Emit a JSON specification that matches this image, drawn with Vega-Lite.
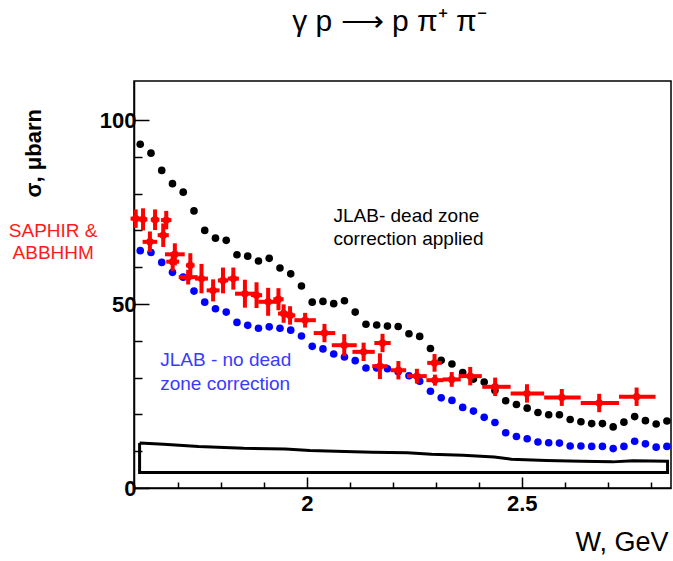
{
  "$schema": "https://vega.github.io/schema/vega-lite/v6.json",
  "width": 537,
  "height": 407,
  "autosize": {"type": "none"},
  "padding": {"left": 134, "top": 81, "right": 2, "bottom": 73},
  "background": "white",
  "config": {
    "font": "Liberation Sans",
    "view": {"stroke": "black", "strokeWidth": 1.5}
  },
  "title": {
    "text": "γ p ⟶ p π⁺ π⁻",
    "fontSize": 30,
    "fontWeight": "normal",
    "color": "black",
    "anchor": "middle",
    "frame": "group",
    "baseline": "alphabetic",
    "offset": 20,
    "dx": -13
  },
  "datasets": {
    "black": [
      {"W": 1.6125, "s": 93.4}, {"W": 1.6375, "s": 91.0}, {"W": 1.6625, "s": 86.3}, {"W": 1.6875, "s": 82.7},
      {"W": 1.7125, "s": 80.4}, {"W": 1.7375, "s": 75.3}, {"W": 1.7625, "s": 70.0}, {"W": 1.7875, "s": 67.9},
      {"W": 1.8125, "s": 67.3}, {"W": 1.8375, "s": 63.4}, {"W": 1.8625, "s": 63.0}, {"W": 1.8875, "s": 61.7},
      {"W": 1.9125, "s": 62.4}, {"W": 1.9375, "s": 59.8}, {"W": 1.9625, "s": 58.2}, {"W": 1.9875, "s": 54.9},
      {"W": 2.0125, "s": 50.5}, {"W": 2.0375, "s": 50.7}, {"W": 2.0625, "s": 50.1}, {"W": 2.0875, "s": 50.9},
      {"W": 2.1125, "s": 47.8}, {"W": 2.1375, "s": 44.5}, {"W": 2.1625, "s": 44.3}, {"W": 2.1875, "s": 44.0},
      {"W": 2.2125, "s": 43.9}, {"W": 2.2375, "s": 41.9}, {"W": 2.2625, "s": 41.2}, {"W": 2.2875, "s": 37.9},
      {"W": 2.3125, "s": 34.7}, {"W": 2.3375, "s": 33.7}, {"W": 2.3625, "s": 31.4}, {"W": 2.3875, "s": 29.6},
      {"W": 2.4125, "s": 28.8}, {"W": 2.4375, "s": 26.5}, {"W": 2.4625, "s": 23.7}, {"W": 2.4875, "s": 22.7},
      {"W": 2.5125, "s": 21.7}, {"W": 2.5375, "s": 20.5}, {"W": 2.5625, "s": 19.9}, {"W": 2.5875, "s": 19.9},
      {"W": 2.6125, "s": 18.6}, {"W": 2.6375, "s": 18.0}, {"W": 2.6625, "s": 17.5}, {"W": 2.6875, "s": 17.5},
      {"W": 2.7125, "s": 16.6}, {"W": 2.7375, "s": 17.9}, {"W": 2.7625, "s": 19.4}, {"W": 2.7875, "s": 18.3},
      {"W": 2.8125, "s": 17.4}, {"W": 2.8375, "s": 18.2}
    ],
    "blue": [
      {"W": 1.6125, "s": 64.5}, {"W": 1.6375, "s": 64.0}, {"W": 1.6625, "s": 61.3}, {"W": 1.6875, "s": 58.6},
      {"W": 1.7125, "s": 57.3}, {"W": 1.7375, "s": 53.5}, {"W": 1.7625, "s": 50.5}, {"W": 1.7875, "s": 48.7},
      {"W": 1.8125, "s": 47.8}, {"W": 1.8375, "s": 45.0}, {"W": 1.8625, "s": 44.2}, {"W": 1.8875, "s": 43.4},
      {"W": 1.9125, "s": 43.8}, {"W": 1.9375, "s": 43.4}, {"W": 1.9625, "s": 42.9}, {"W": 1.9875, "s": 41.3},
      {"W": 2.0125, "s": 38.5}, {"W": 2.0375, "s": 37.8}, {"W": 2.0625, "s": 36.4}, {"W": 2.0875, "s": 35.6},
      {"W": 2.1125, "s": 34.6}, {"W": 2.1375, "s": 32.6}, {"W": 2.1625, "s": 32.6}, {"W": 2.1875, "s": 32.4},
      {"W": 2.2125, "s": 31.6}, {"W": 2.2375, "s": 30.5}, {"W": 2.2625, "s": 29.0}, {"W": 2.2875, "s": 26.3},
      {"W": 2.3125, "s": 24.5}, {"W": 2.3375, "s": 23.8}, {"W": 2.3625, "s": 21.9}, {"W": 2.3875, "s": 20.9},
      {"W": 2.4125, "s": 19.2}, {"W": 2.4375, "s": 17.8}, {"W": 2.4625, "s": 15.0}, {"W": 2.4875, "s": 14.0},
      {"W": 2.5125, "s": 13.4}, {"W": 2.5375, "s": 12.5}, {"W": 2.5625, "s": 12.3}, {"W": 2.5875, "s": 12.2},
      {"W": 2.6125, "s": 11.4}, {"W": 2.6375, "s": 11.4}, {"W": 2.6625, "s": 11.3}, {"W": 2.6875, "s": 11.3},
      {"W": 2.7125, "s": 10.7}, {"W": 2.7375, "s": 11.3}, {"W": 2.7625, "s": 12.7}, {"W": 2.7875, "s": 12.0},
      {"W": 2.8125, "s": 11.1}, {"W": 2.8375, "s": 11.3}
    ],
    "red": [
      {"W": 1.602, "s": 73.2, "Wlo": 1.590, "Whi": 1.614, "slo": 70.7, "shi": 75.7},
      {"W": 1.619, "s": 73.0, "Wlo": 1.609, "Whi": 1.629, "slo": 70.0, "shi": 76.0},
      {"W": 1.647, "s": 72.9, "Wlo": 1.637, "Whi": 1.657, "slo": 70.1, "shi": 75.7},
      {"W": 1.635, "s": 66.9, "Wlo": 1.618, "Whi": 1.652, "slo": 64.1, "shi": 69.7},
      {"W": 1.673, "s": 72.8, "Wlo": 1.661, "Whi": 1.685, "slo": 70.3, "shi": 75.3},
      {"W": 1.666, "s": 68.7, "Wlo": 1.653, "Whi": 1.679, "slo": 65.5, "shi": 71.9},
      {"W": 1.693, "s": 63.5, "Wlo": 1.670, "Whi": 1.716, "slo": 60.5, "shi": 66.5},
      {"W": 1.688, "s": 61.5, "Wlo": 1.673, "Whi": 1.703, "slo": 59.0, "shi": 64.0},
      {"W": 1.724, "s": 57.3, "Wlo": 1.702, "Whi": 1.746, "slo": 55.3, "shi": 59.3},
      {"W": 1.729, "s": 60.5, "Wlo": 1.719, "Whi": 1.739, "slo": 57.2, "shi": 63.8},
      {"W": 1.755, "s": 56.9, "Wlo": 1.740, "Whi": 1.770, "slo": 52.9, "shi": 60.9},
      {"W": 1.782, "s": 53.7, "Wlo": 1.767, "Whi": 1.797, "slo": 50.7, "shi": 56.7},
      {"W": 1.805, "s": 56.4, "Wlo": 1.793, "Whi": 1.817, "slo": 52.9, "shi": 59.9},
      {"W": 1.829, "s": 56.9, "Wlo": 1.816, "Whi": 1.842, "slo": 53.9, "shi": 59.9},
      {"W": 1.856, "s": 52.8, "Wlo": 1.833, "Whi": 1.879, "slo": 49.0, "shi": 56.6},
      {"W": 1.883, "s": 52.4, "Wlo": 1.870, "Whi": 1.896, "slo": 48.9, "shi": 55.9},
      {"W": 1.910, "s": 50.6, "Wlo": 1.887, "Whi": 1.933, "slo": 46.8, "shi": 54.4},
      {"W": 1.934, "s": 51.3, "Wlo": 1.922, "Whi": 1.946, "slo": 48.3, "shi": 54.3},
      {"W": 1.946, "s": 47.4, "Wlo": 1.933, "Whi": 1.959, "slo": 44.9, "shi": 49.9},
      {"W": 1.961, "s": 46.9, "Wlo": 1.949, "Whi": 1.973, "slo": 44.4, "shi": 49.4},
      {"W": 1.996, "s": 45.6, "Wlo": 1.971, "Whi": 2.021, "slo": 43.6, "shi": 47.6},
      {"W": 2.041, "s": 42.1, "Wlo": 2.016, "Whi": 2.066, "slo": 39.6, "shi": 44.6},
      {"W": 2.087, "s": 38.8, "Wlo": 2.058, "Whi": 2.116, "slo": 35.8, "shi": 41.8},
      {"W": 2.132, "s": 37.0, "Wlo": 2.106, "Whi": 2.158, "slo": 34.5, "shi": 39.5},
      {"W": 2.176, "s": 39.4, "Wlo": 2.157, "Whi": 2.195, "slo": 36.9, "shi": 41.9},
      {"W": 2.170, "s": 33.1, "Wlo": 2.152, "Whi": 2.188, "slo": 29.6, "shi": 36.6},
      {"W": 2.213, "s": 32.0, "Wlo": 2.195, "Whi": 2.231, "slo": 29.5, "shi": 34.5},
      {"W": 2.256, "s": 30.4, "Wlo": 2.233, "Whi": 2.279, "slo": 28.4, "shi": 32.4},
      {"W": 2.297, "s": 34.0, "Wlo": 2.280, "Whi": 2.314, "slo": 31.6, "shi": 36.4},
      {"W": 2.298, "s": 29.3, "Wlo": 2.278, "Whi": 2.318, "slo": 27.8, "shi": 30.8},
      {"W": 2.337, "s": 29.5, "Wlo": 2.316, "Whi": 2.358, "slo": 27.5, "shi": 31.5},
      {"W": 2.380, "s": 30.4, "Wlo": 2.353, "Whi": 2.407, "slo": 27.9, "shi": 32.9},
      {"W": 2.438, "s": 27.5, "Wlo": 2.408, "Whi": 2.474, "slo": 25.0, "shi": 30.0},
      {"W": 2.512, "s": 25.7, "Wlo": 2.474, "Whi": 2.552, "slo": 23.2, "shi": 28.2},
      {"W": 2.593, "s": 24.6, "Wlo": 2.552, "Whi": 2.637, "slo": 22.3, "shi": 26.9},
      {"W": 2.680, "s": 23.1, "Wlo": 2.637, "Whi": 2.726, "slo": 20.6, "shi": 25.6},
      {"W": 2.767, "s": 24.8, "Wlo": 2.726, "Whi": 2.811, "slo": 22.3, "shi": 27.3}
    ],
    "band": [
      {"i": 0, "W": 1.611, "s": 12.2}, {"i": 1, "W": 1.667, "s": 11.9}, {"i": 2, "W": 1.748, "s": 11.3},
      {"i": 3, "W": 1.853, "s": 10.8}, {"i": 4, "W": 1.950, "s": 10.6}, {"i": 5, "W": 2.007, "s": 10.2},
      {"i": 6, "W": 2.088, "s": 9.9}, {"i": 7, "W": 2.153, "s": 9.7}, {"i": 8, "W": 2.234, "s": 9.6},
      {"i": 9, "W": 2.290, "s": 9.2}, {"i": 10, "W": 2.363, "s": 8.9}, {"i": 11, "W": 2.436, "s": 8.4},
      {"i": 12, "W": 2.476, "s": 7.8}, {"i": 13, "W": 2.557, "s": 7.5}, {"i": 14, "W": 2.638, "s": 7.3},
      {"i": 15, "W": 2.711, "s": 7.1}, {"i": 16, "W": 2.759, "s": 7.4}, {"i": 17, "W": 2.839, "s": 7.3},
      {"i": 18, "W": 2.839, "s": 4.2}, {"i": 19, "W": 1.611, "s": 4.2}, {"i": 20, "W": 1.611, "s": 12.2}
    ],
    "labels": [
      {"g": "corr", "W": 2.062, "s": 72.2, "text": "JLAB- dead zone"},
      {"g": "corr", "W": 2.062, "s": 66.0, "text": "correction applied"},
      {"g": "nocorr", "W": 1.659, "s": 33.1, "text": "JLAB - no dead"},
      {"g": "nocorr", "W": 1.659, "s": 26.5, "text": "zone correction"},
      {"g": "saphir", "W": 1.410, "s": 68.1, "text": "SAPHIR &"},
      {"g": "saphir", "W": 1.410, "s": 62.1, "text": "ABBHHM"}
    ]
  },
  "layer": [
    {
      "data": {"name": "band"},
      "mark": {"type": "line", "color": "black", "strokeWidth": 3, "strokeJoin": "miter"},
      "encoding": {
        "x": {
          "field": "W", "type": "quantitative",
          "scale": {"domain": [1.598, 2.847], "nice": false, "zero": false},
          "axis": {
            "values": [1.7, 1.8, 1.9, 2, 2.1, 2.2, 2.3, 2.4, 2.5, 2.6, 2.7, 2.8],
            "labelExpr": "datum.value == 2 ? '2' : (datum.value == 2.5 ? '2.5' : '')",
            "grid": false,
            "domainColor": "black", "domainWidth": 1.5,
            "tickColor": "black", "tickWidth": 1.5,
            "tickSize": {"condition": {"test": "datum.value == 2 || datum.value == 2.5", "value": -11}, "value": -6},
            "labelFontSize": 22, "labelFontWeight": "bold", "labelColor": "black",
            "labelPadding": 16, "labelFlush": false,
            "title": "W, GeV", "titleFontSize": 27, "titleFontWeight": "normal", "titleColor": "black",
            "titleX": 534, "titleY": 62, "titleAlign": "right", "titleBaseline": "alphabetic", "titleAngle": 0
          }
        },
        "y": {
          "field": "s", "type": "quantitative",
          "scale": {"domain": [0, 110.6], "nice": false, "zero": false},
          "axis": {
            "values": [0, 10, 20, 30, 40, 50, 60, 70, 80, 90, 100],
            "labelExpr": "datum.value % 50 == 0 ? datum.label : ''",
            "grid": false,
            "domainColor": "black", "domainWidth": 1.5,
            "tickColor": "black", "tickWidth": 1.5,
            "tickSize": {"condition": {"test": "datum.value % 50 == 0", "value": -15}, "value": -8},
            "labelFontSize": 22, "labelFontWeight": "bold", "labelColor": "black",
            "labelPadding": 13, "labelFlush": false,
            "title": "σ, μbarn", "titleFontSize": 22, "titleFontWeight": "bold", "titleColor": "black",
            "titleX": -94, "titleY": 116, "titleAlign": "left", "titleBaseline": "alphabetic", "titleAngle": -90
          }
        },
        "order": {"field": "i", "type": "quantitative"}
      }
    },
    {
      "data": {"name": "black"},
      "mark": {"type": "circle", "color": "black", "size": 58, "opacity": 1},
      "encoding": {
        "x": {"field": "W", "type": "quantitative"},
        "y": {"field": "s", "type": "quantitative"}
      }
    },
    {
      "data": {"name": "blue"},
      "mark": {"type": "circle", "color": "#0000ff", "size": 58, "opacity": 1},
      "encoding": {
        "x": {"field": "W", "type": "quantitative"},
        "y": {"field": "s", "type": "quantitative"}
      }
    },
    {
      "data": {"name": "red"},
      "mark": {"type": "rule", "color": "#ff0000", "strokeWidth": 4},
      "encoding": {
        "x": {"field": "Wlo", "type": "quantitative"},
        "x2": {"field": "Whi"},
        "y": {"field": "s", "type": "quantitative"}
      }
    },
    {
      "data": {"name": "red"},
      "mark": {"type": "rule", "color": "#ff0000", "strokeWidth": 4},
      "encoding": {
        "x": {"field": "W", "type": "quantitative"},
        "y": {"field": "slo", "type": "quantitative"},
        "y2": {"field": "shi"}
      }
    },
    {
      "data": {"name": "red"},
      "mark": {"type": "circle", "color": "#ff0000", "size": 55, "opacity": 1},
      "encoding": {
        "x": {"field": "W", "type": "quantitative"},
        "y": {"field": "s", "type": "quantitative"}
      }
    },
    {
      "data": {"name": "labels"},
      "transform": [{"filter": "datum.g == 'corr'"}],
      "mark": {"type": "text", "align": "left", "baseline": "alphabetic", "fontSize": 19, "color": "black"},
      "encoding": {
        "x": {"field": "W", "type": "quantitative"},
        "y": {"field": "s", "type": "quantitative"},
        "text": {"field": "text"}
      }
    },
    {
      "data": {"name": "labels"},
      "transform": [{"filter": "datum.g == 'nocorr'"}],
      "mark": {"type": "text", "align": "left", "baseline": "alphabetic", "fontSize": 19, "color": "#3a3aff"},
      "encoding": {
        "x": {"field": "W", "type": "quantitative"},
        "y": {"field": "s", "type": "quantitative"},
        "text": {"field": "text"}
      }
    },
    {
      "data": {"name": "labels"},
      "transform": [{"filter": "datum.g == 'saphir'"}],
      "mark": {"type": "text", "align": "center", "baseline": "alphabetic", "fontSize": 19, "color": "#ff1a1a"},
      "encoding": {
        "x": {"field": "W", "type": "quantitative"},
        "y": {"field": "s", "type": "quantitative"},
        "text": {"field": "text"}
      }
    }
  ]
}
